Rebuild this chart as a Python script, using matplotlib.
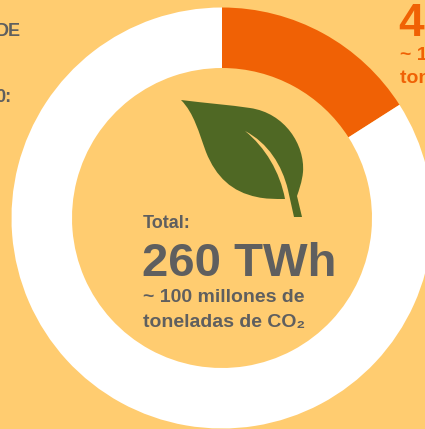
import matplotlib
matplotlib.use("Agg")
import matplotlib.pyplot as plt
from matplotlib.path import Path
from matplotlib.patches import PathPatch

plt.rcParams['font.family'] = ['Liberation Sans', 'DejaVu Sans']

# values in TWh
saved = 41.5
total = 260
slices = [saved, total - saved]
slice_colors = ["#F06105", "#FFFFFF"]

bg = "#FFCC70"
grey = "#5F5F5F"
orange = "#F06105"
green = "#4F6824"

W, H = 425, 429
fig = plt.figure(figsize=(W / 100, H / 100), dpi=100, facecolor=bg)

# donut, axes placed in pixels so radius 1 = R px
cx, cy, R, r_in = 222, 218, 210.5, 150
ax = fig.add_axes([(cx - R) / W, 1 - (cy + R) / H, 2 * R / W, 2 * R / H])
ax.pie(slices, colors=slice_colors, startangle=90, counterclock=False, radius=1,
       wedgeprops=dict(width=1 - r_in / R, linewidth=0))
ax.set_xlim(-1, 1)
ax.set_ylim(-1, 1)
ax.axis("off")

# overlay in pixel coordinates for leaf and text
ov = fig.add_axes([0, 0, 1, 1])
ov.set_xlim(0, W)
ov.set_ylim(H, 0)
ov.axis("off")
ov.patch.set_alpha(0)

# leaf icon
leaf = [
    (Path.MOVETO, (181, 100)),
    (Path.CURVE4, (205, 103)), (Path.CURVE4, (230, 105)), (Path.CURVE4, (250, 108)),
    (Path.CURVE4, (285, 113)), (Path.CURVE4, (305, 145)), (Path.CURVE4, (303, 172)),
    (Path.CURVE4, (302, 182)), (Path.CURVE4, (299, 190)), (Path.CURVE4, (297, 196)),
    (Path.LINETO, (302, 217)),
    (Path.LINETO, (294, 217)),
    (Path.LINETO, (288, 190)),
    (Path.CURVE4, (282, 165)), (Path.CURVE4, (268, 143)), (Path.CURVE4, (245, 131)),
    (Path.CURVE4, (265, 147)), (Path.CURVE4, (280, 172)), (Path.CURVE4, (285, 199)),
    (Path.CURVE4, (275, 199)), (Path.CURVE4, (265, 199)), (Path.CURVE4, (257, 197)),
    (Path.CURVE4, (232, 192)), (Path.CURVE4, (216, 177)), (Path.CURVE4, (206, 152)),
    (Path.CURVE4, (199, 133)), (Path.CURVE4, (194, 113)), (Path.CURVE4, (181, 100)),
    (Path.CLOSEPOLY, (181, 100)),
]
codes = [c for c, p in leaf]
verts = [p for c, p in leaf]
ov.add_patch(PathPatch(Path(verts, codes), facecolor=green, edgecolor="none"))

# centre text
ov.text(143, 223, "Total:", fontsize=13, fontweight="bold", color=grey, va="center")
ov.text(142, 264, f"{total} TWh", fontsize=34, fontweight="bold", color=grey, va="center")
ov.text(143, 298, "~ 100 millones de", fontsize=14, fontweight="bold", color=grey, va="center")
ov.text(143, 322, "toneladas de CO₂", fontsize=14, fontweight="bold", color=grey, va="center")

# right labels, cut off by the picture edge
ov.text(399, 24, f"{saved:g} TWh", fontsize=33, fontweight="bold", color=orange, va="center")
ov.text(400, 56, "~ 16 millones de", fontsize=14, fontweight="bold", color=orange, va="center")
ov.text(400, 79, "toneladas de CO₂", fontsize=14, fontweight="bold", color=orange, va="center")

# left labels, cut off by the picture edge
ov.text(21, 32, "DE", fontsize=13, fontweight="bold", color=grey, va="center", ha="right")
ov.text(12, 98, "0:", fontsize=13, fontweight="bold", color=grey, va="center", ha="right")

fig.savefig("out.png", dpi=100, facecolor=bg)
